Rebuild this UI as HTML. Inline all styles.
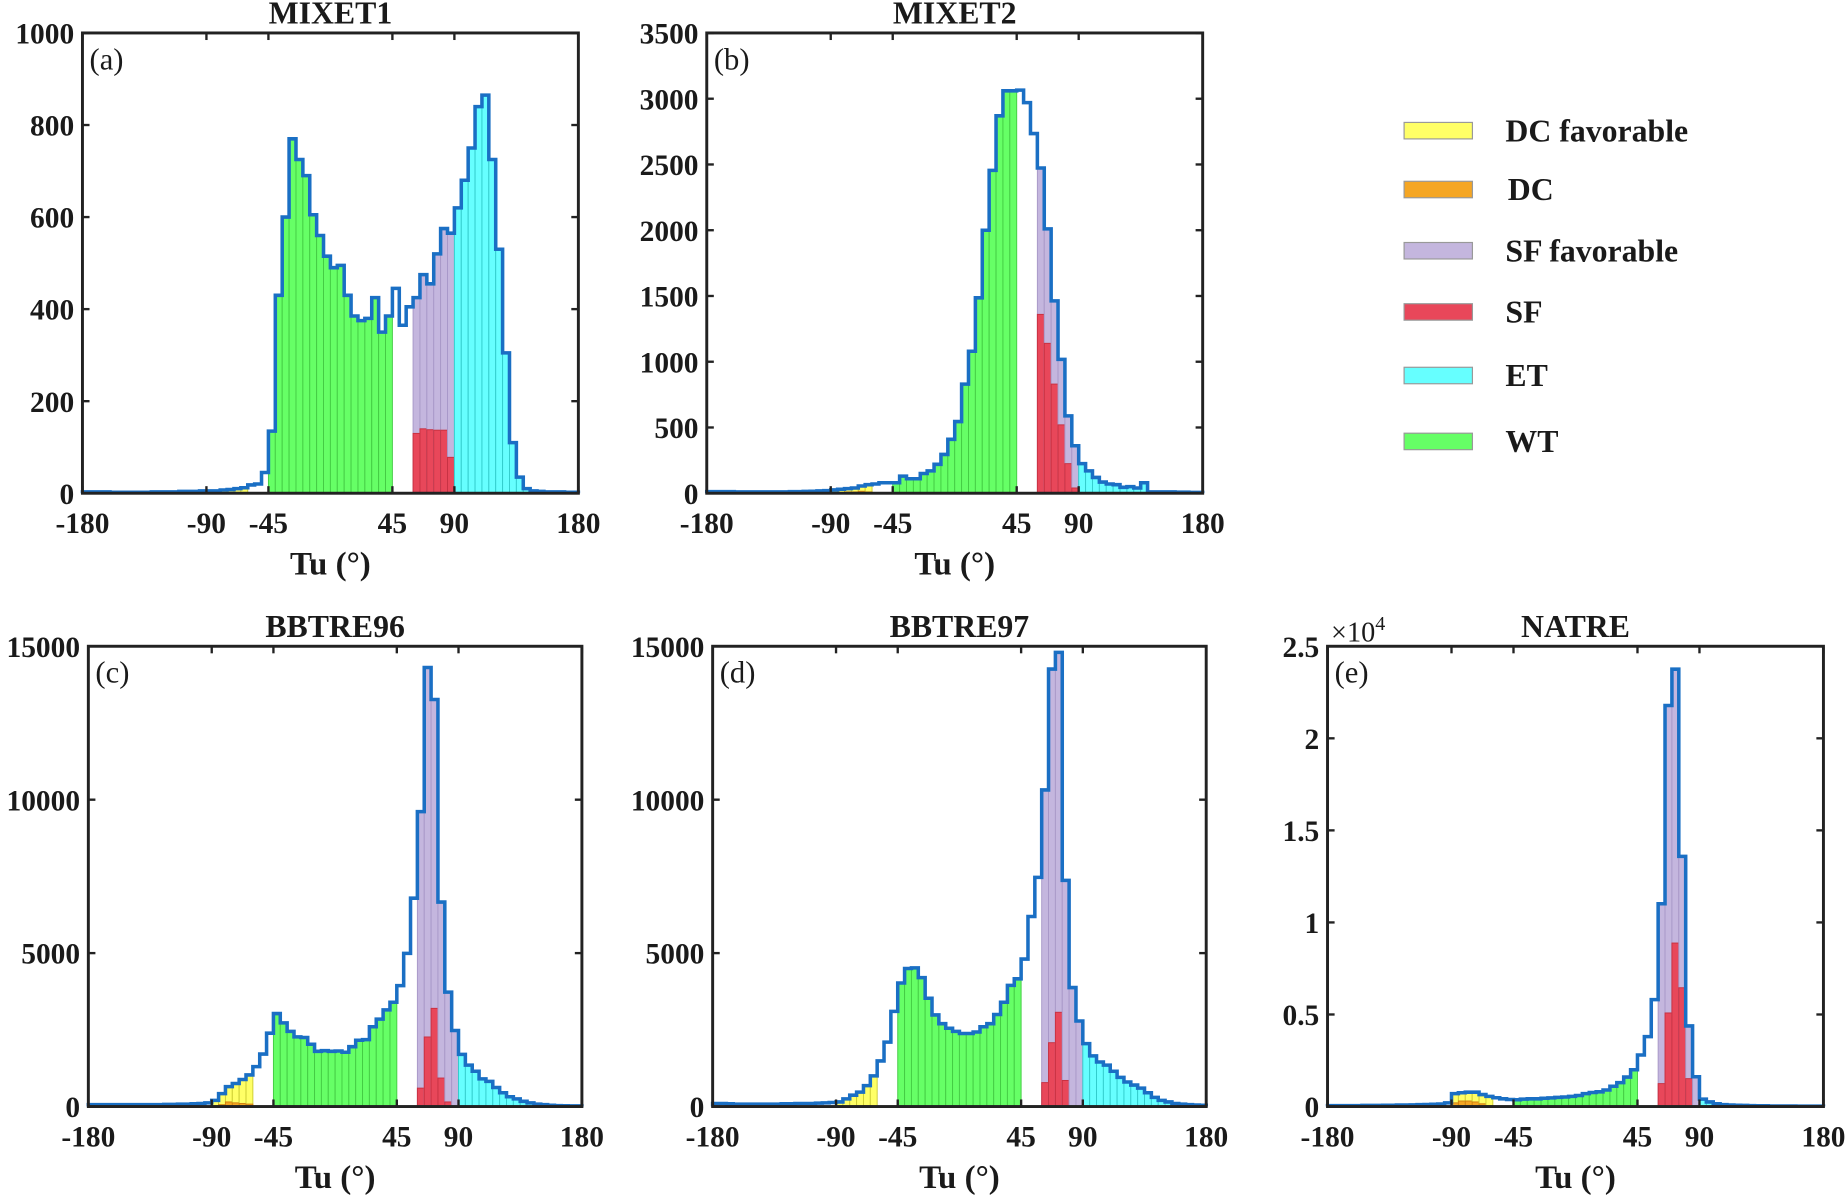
<!DOCTYPE html>
<html><head><meta charset="utf-8"><style>
html,body{margin:0;padding:0;background:#fff;}
svg{display:block;}
text{font-family:"Liberation Serif",serif;fill:#1a1a1a;}
</style></head>
<body>
<svg id="fig" width="1847" height="1196" viewBox="0 0 1568 1016" preserveAspectRatio="none" xmlns="http://www.w3.org/2000/svg"></svg>
<script>
// Bin edges: 72 bins of 5 degrees from -180 to 180
const binStart = -180;
const binWidth = 5;

// (a) MIXET1
const totalsA = [3,3,3,3,2,2,2,2,2,2,3,3,3,3,4,4,4,5, 5,5,7,8,10,12,18,20,45,
 135,430,600,770,725,690,605,560,515,490,495,430,385,375,380,425,350,385,
 445,365,405, 425,475,455,520,575,565,
 620,680,750,840,865,725,530,305,110,35,10,5,4,3,3,3,2,2];
const orangeA = [0,0,0,0,0,0];
const redA = [130,140,138,137,137,78];

// (b) MIXET2
const totalsB = [12,12,12,12,10,10,10,10,10,10,10,10,12,12,14,15,18,20, 25,30,35,40,55,65,70,80,80,
 80,130,110,110,150,170,220,295,410,545,830,1080,1486,2000,2455,2870,3060,3060,
 3065,2970,2735, 2473,2010,1463,1018,588,361,
 225,170,120,85,70,65,45,50,40,80,10,10,10,10,8,8,6,6];
const orangeB = [0,5,10,10,15,10];
const redB = [1360,1140,830,520,225,40];

// (c) BBTRE96
const totalsC = [60,60,60,60,60,60,60,60,60,60,60,70,70,80,80,90,100,120, 200,420,650,750,880,1030,1300,1710,2390,
 3030,2725,2450,2270,2250,2030,1800,1820,1800,1810,1770,1950,2160,2180,2600,2850,3150,3400,
 3940,4990,6790, 9612,14307,13266,6664,3728,2477,
 1700,1350,1150,900,820,620,450,320,250,170,120,80,60,40,30,25,20,20];
const orangeC = [30,60,150,120,100,80];
const redC = [600,2267,3200,929,150,0];

// (d) BBTRE97
const totalsD = [100,100,90,80,80,80,80,80,80,80,90,90,100,100,100,110,120,130, 150,250,370,470,680,1000,1486,2100,3100,
 4025,4500,4520,4200,3530,2985,2700,2550,2450,2380,2380,2430,2600,2700,3000,3400,3950,4162,
 4806,6193,7469, 10318,14257,14802,7370,3877,2787,
 2050,1650,1450,1350,1150,950,800,700,600,450,300,200,150,100,80,60,50,40];
const orangeD = [0,10,20,20,30,20];
const redD = [780,2081,3072,850,0,0];

// (e) NATRE
const totalsE = [50,50,50,50,50,60,60,60,70,70,80,80,90,100,110,120,140,200, 700,750,780,780,650,550,477,420,380,
 370,400,420,420,450,470,500,520,550,600,700,760,800,900,1100,1300,1600,2000,
 2800,3797,5809, 11016,21784,23755,13589,4378,1618,
 400,250,150,100,80,70,60,50,40,40,30,30,30,25,20,20,20,20];
const orangeE = [200,300,300,250,150,50];
const redE = [1245,5083,8880,6452,1515,0];

// Tick labels
const xTickVals = [-180,-90,-45,45,90,180];
const yTicksA = [0,200,400,600,800,1000];
const yTicksB = [0,500,1000,1500,2000,2500,3000,3500];
const yTicksC = [0,5000,10000,15000];
const yTicksE = [0,5000,10000,15000,20000,25000];
const yTickLabelsE = ["0","0.5","1","1.5","2","2.5"];
const legendLabels = ["DC favorable","DC","SF favorable","SF","ET","WT"];

const NS = "http://www.w3.org/2000/svg";
const svg = document.getElementById('fig');
function mk(tag, attrs, parent){
  const e = document.createElementNS(NS, tag);
  for (const k in attrs) e.setAttribute(k, attrs[k]);
  (parent||svg).appendChild(e); return e;
}
const COL = {WT:"#66ff66", WTe:"#44cc44", SFF:"#c4b6de", SFFe:"#a898c8", SF:"#e8475a", SFe:"#c83040",
  ET:"#66ffff", ETe:"#33cccc", DCF:"#ffff66", DCFe:"#cccc33", DC:"#f5a623", DCe:"#d08010"};

function panel(cfg){
  const g = mk('g', {});
  
  
  const L=cfg.x0, R=cfg.x1, T=cfg.y0, B=cfg.y1;
  const xs = v => L + (v+180)/360*(R-L);
  const ys = v => B - v/cfg.ymax*(B-T);
  const tot = cfg.totals;
  for (let i=0;i<tot.length;i++){
    const a = binStart + i*binWidth, b = a+binWidth;
    let f=null, e=null;
    if (a>=-90 && a<-60){f=COL.DCF;e=COL.DCFe;}
    else if (a>=-45 && a<45){f=COL.WT;e=COL.WTe;}
    else if (a>=60 && a<90){f=COL.SFF;e=COL.SFFe;}
    else if (a>=90){f=COL.ET;e=COL.ETe;}
    if (f && tot[i]>0){
      const r = mk('rect', {x:xs(a), y:ys(tot[i]), width:xs(b)-xs(a), height:B-ys(tot[i]), fill:f, stroke:e, 'stroke-width':0.8}, g);
      
      
    }
    if (a>=-90 && a<-60){
      const o = cfg.orange[(a+90)/5];
      if (o>0){
        const r = mk('rect', {x:xs(a), y:ys(o), width:xs(b)-xs(a), height:B-ys(o), fill:COL.DC, stroke:COL.DCe, 'stroke-width':0.8}, g);
        
        
      }
    }
    if (a>=60 && a<90){
      const rv = cfg.red[(a-60)/5];
      if (rv>0){
        const r = mk('rect', {x:xs(a), y:ys(rv), width:xs(b)-xs(a), height:B-ys(rv), fill:COL.SF, stroke:COL.SFe, 'stroke-width':0.8}, g);
        
        
      }
    }
  }
  let d = 'M'+xs(-180)+','+B;
  for (let i=0;i<tot.length;i++){
    const a = binStart + i*binWidth;
    d += ' L'+xs(a)+','+ys(tot[i])+' L'+xs(a+binWidth)+','+ys(tot[i]);
  }
  d += ' L'+xs(180)+','+B;
  const p = mk('path', {d:d, fill:'none', stroke:'#1a6fc4', 'stroke-width':3, 'stroke-linejoin':'miter'}, g);
  
  
  const fr = mk('rect', {x:L, y:T, width:R-L, height:B-T, fill:'none', stroke:'#222', 'stroke-width':2.5}, g);
  
  
  xTickVals.forEach(v=>{
    const x = xs(v);
    mk('line', {x1:x, y1:B, x2:x, y2:B-6, stroke:'#222','stroke-width':2}, g);
    mk('line', {x1:x, y1:T, x2:x, y2:T+6, stroke:'#222','stroke-width':2}, g);
    const t = mk('text', {x:x, y:B+34, 'text-anchor':'middle', 'font-size':25, 'font-weight':'bold'}, g);
    t.textContent = String(v);
    
    
  });
  cfg.yticks.forEach((v,k)=>{
    const y = ys(v);
    mk('line', {x1:L, y1:y, x2:L+6, y2:y, stroke:'#222','stroke-width':2}, g);
    mk('line', {x1:R, y1:y, x2:R-6, y2:y, stroke:'#222','stroke-width':2}, g);
    const t = mk('text', {x:L-7, y:y+9, 'text-anchor':'end', 'font-size':25, 'font-weight':'bold'}, g);
    t.textContent = cfg.ylabels ? cfg.ylabels[k] : String(v);
    
    
  });
  const tt = mk('text', {x:(L+R)/2, y:T-8, 'text-anchor':'middle', 'font-size':27, 'font-weight':'bold'}, g);
  tt.textContent = cfg.title;
  
  
  const pl = mk('text', {x:L+6, y:T+31, 'font-size':26}, g);
  pl.textContent = cfg.label;
  
  
  const xl = mk('text', {x:(L+R)/2, y:B+69, 'text-anchor':'middle', 'font-size':28, 'font-weight':'bold'}, g);
  xl.textContent = 'Tu (°)';
  
  
  return {g, L, T};
}

panel({name:'panel-mixet1', key:'a', title:'MIXET1', label:'(a)', x0:70, x1:491, y0:28, y1:419, ymax:1000, yticks:yTicksA, totals:totalsA, orange:orangeA, red:redA});
panel({name:'panel-mixet2', key:'b', title:'MIXET2', label:'(b)', x0:600, x1:1021, y0:28, y1:419, ymax:3500, yticks:yTicksB, totals:totalsB, orange:orangeB, red:redB});
panel({name:'panel-bbtre96', key:'c', title:'BBTRE96', label:'(c)', x0:75, x1:494, y0:549, y1:940, ymax:15000, yticks:yTicksC, totals:totalsC, orange:orangeC, red:redC});
panel({name:'panel-bbtre97', key:'d', title:'BBTRE97', label:'(d)', x0:605, x1:1024, y0:549, y1:940, ymax:15000, yticks:yTicksC, totals:totalsD, orange:orangeD, red:redD});
panel({name:'panel-natre', key:'e', title:'NATRE', label:'(e)', x0:1127, x1:1548, y0:549, y1:940, ymax:25000, yticks:yTicksE, ylabels:yTickLabelsE, totals:totalsE, orange:orangeE, red:redE});
const ex = mk('text', {x:1130, y:545, 'font-size':24});


ex.innerHTML = '×10<tspan dy="-10" font-size="17">4</tspan>';

const legColors = [[COL.DCF,'#999'],[COL.DC,'#999'],[COL.SFF,'#999'],[COL.SF,'#999'],[COL.ET,'#999'],[COL.WT,'#999']];
const legY = [111,161,213,265,319,375];
const lg = mk('g', {});


legendLabels.forEach((lab,i)=>{
  const r = mk('rect', {x:1192, y:legY[i]-7, width:58, height:14, fill:legColors[i][0], stroke:legColors[i][1], 'stroke-width':1}, lg);
  
  
  const t = mk('text', {x: i===1?1280:1278, y:legY[i]+9, 'font-size':27, 'font-weight':'bold'}, lg);
  t.textContent = lab;
  
  
});
</script>
</body></html>
